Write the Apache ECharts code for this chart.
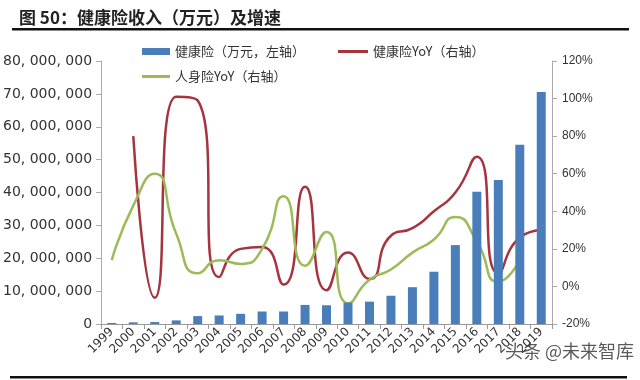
<!DOCTYPE html>
<html>
<head>
<meta charset="utf-8">
<script src="https://cdn.jsdelivr.net/npm/echarts@6/dist/echarts.min.js"></script>
<style>html,body{margin:0;padding:0;background:#fff}#c{width:640px;height:380px}</style>
</head>
<body>
<div id="c"></div>
<script>
var years = ['1999','2000','2001','2002','2003','2004','2005','2006','2007','2008','2009','2010','2011','2012','2013','2014','2015','2016','2017','2018','2019'];
var healthPremium = [300000,500000,600000,1100000,2400000,2600000,3100000,3800000,3800000,5800000,5700000,6500000,6800000,8600000,11200000,15900000,24000000,40200000,43800000,54500000,70600000];
var healthYoY = [null,80,-6,101,99,5,20,21,1,53,-2,18,4,27,31,40,50,69,7,26,30];
var lifeYoY = [14,43,60,28,7,14,12,20,48,11,29,-9,3.5,9,18,25,37,24,2.5,14,null];
var leftTicks = {min:0,max:80000000,interval:10000000};
var rightTicks = {min:-20,max:120,interval:20};

var chart = echarts.init(document.getElementById('c'));
function fmt(v){return String(v).replace(/\B(?=(\d{3})+(?!\d))/g, ', ');}
var cjk = '"Noto Sans CJK SC", sans-serif';
chart.setOption({
  animation:false,
  title:{text:'图 50：健康险收入（万元）及增速',left:14,top:4,textStyle:{fontSize:17,fontWeight:'bold',color:'#222',fontFamily:cjk}},
  graphic:[
    {type:'rect',shape:{x:12,y:28,width:617,height:2.5},style:{fill:'#111'}},
    {type:'rect',shape:{x:10,y:376,width:617,height:2.5},style:{fill:'#111'}},
    {type:'text',left:505,top:342,z:100,style:{text:'头条 @未来智库',fontSize:18,fill:'rgba(60,60,60,0.85)',fontFamily:cjk}}
  ],
  legend:[
    {data:[{name:'健康险（万元，左轴）',icon:'rect'}],left:137,top:40,itemWidth:28,itemHeight:7,textStyle:{fontSize:13,color:'#333',fontFamily:cjk}},
    {data:[{name:'健康险YoY（右轴）',icon:'rect'}],left:333,top:40,itemWidth:30,itemHeight:3,textStyle:{fontSize:13,color:'#333',fontFamily:cjk}},
    {data:[{name:'人身险YoY（右轴）',icon:'rect'}],left:137,top:65,itemWidth:28,itemHeight:3,textStyle:{fontSize:13,color:'#333',fontFamily:cjk}}
  ],
  grid:{left:100,right:88,top:61,bottom:56,containLabel:false},
  xAxis:{type:'category',data:years,
    axisLine:{lineStyle:{color:'#999'}},axisTick:{show:true,lineStyle:{color:'#999'}},
    axisLabel:{rotate:45,fontSize:12,color:'#333',margin:6,fontFamily:'DejaVu Sans',interval:0}},
  yAxis:[
    {type:'value',min:leftTicks.min,max:leftTicks.max,interval:leftTicks.interval,
      axisLine:{show:true,lineStyle:{color:'#aaa'}},axisTick:{show:true,lineStyle:{color:'#aaa'}},splitLine:{show:false},
      axisLabel:{formatter:fmt,fontSize:14,color:'#333',margin:9,fontFamily:'DejaVu Sans'}},
    {type:'value',min:rightTicks.min,max:rightTicks.max,interval:rightTicks.interval,position:'right',
      axisLine:{show:true,lineStyle:{color:'#aaa'}},axisTick:{show:true,lineStyle:{color:'#aaa'}},splitLine:{show:false},
      axisLabel:{formatter:'{value}%',fontSize:12,color:'#333',margin:10,fontFamily:'Liberation Sans'}}
  ],
  series:[
    {name:'健康险（万元，左轴）',type:'bar',data:healthPremium,yAxisIndex:0,barWidth:9,z:5,itemStyle:{color:'#4A7EBB'}},
    {name:'健康险YoY（右轴）',type:'line',data:healthYoY,yAxisIndex:1,smooth:0.6,symbol:'none',z:2,lineStyle:{color:'#A5343F',width:2.5},itemStyle:{color:'#A5343F'}},
    {name:'人身险YoY（右轴）',type:'line',data:lifeYoY,yAxisIndex:1,smooth:0.6,symbol:'none',z:2,lineStyle:{color:'#9BBB59',width:2.5},itemStyle:{color:'#9BBB59'}}
  ]
});
</script>
</body>
</html>
